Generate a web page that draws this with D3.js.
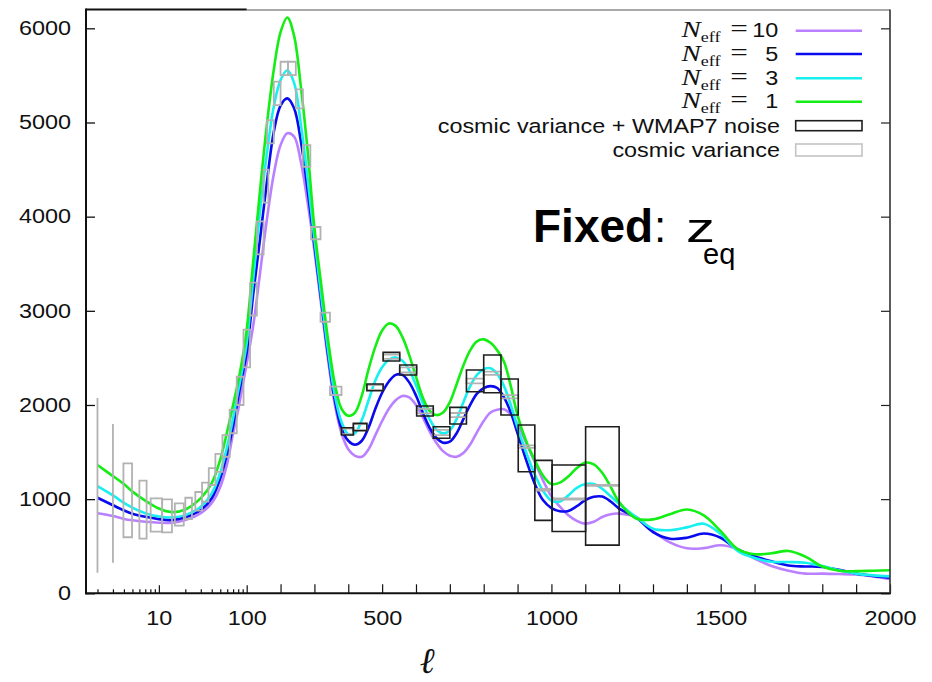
<!DOCTYPE html>
<html>
<head>
<meta charset="utf-8">
<script src="https://cdn.jsdelivr.net/npm/d3@7"></script>
<style>
  body { margin: 0; background: #fff; }
  svg { display: block; }
</style>
</head>
<body>
<div id="chart"></div>
<script>
// multipoles where the spectra were read
var ell = [2, 3, 4, 5, 7, 10, 14, 20, 30,
  40, 50, 60, 70, 80, 90, 100,
  120, 140, 160, 180, 200, 220, 240, 260, 280, 300,
  320, 340, 360, 380, 400, 420, 440, 460, 480, 500,
  520, 540, 560, 580, 600, 620, 640, 660, 680, 700,
  720, 740, 760, 780, 800, 820, 840, 860, 880, 900,
  925, 950, 975, 1000, 1025, 1050, 1075, 1100, 1125, 1150, 1175, 1200,
  1250, 1300, 1350, 1400, 1450, 1500, 1550, 1600,
  1650, 1700, 1750, 1800, 1850, 1900, 1950, 2000];

var neff10 = [850, 820, 790, 775, 760, 750, 750, 778, 850,
  960, 1130, 1380, 1700, 1950, 2210, 2440,
  2860, 3420, 3980, 4450, 4760, 4885, 4850, 4580, 4150, 3640,
  3060, 2490, 2010, 1700, 1530, 1460, 1450, 1530, 1680, 1830,
  1960, 2050, 2095, 2080, 2000, 1870, 1720, 1600, 1510, 1460,
  1451, 1490, 1580, 1710, 1830, 1920, 1950, 1954, 1900, 1800,
  1600, 1400, 1200, 1030, 920, 830, 770, 740, 760, 810, 840, 846,
  810, 660, 540, 478, 480, 510, 468, 370,
  290, 240, 209, 209, 205, 199, 180, 150];

var neff5 = [1015, 935, 880, 845, 812, 788, 778, 808, 885,
  1010, 1220, 1490, 1780, 2080, 2330, 2560,
  3200, 3780, 4380, 4900, 5180, 5256, 5150, 4800, 4280, 3700,
  3110, 2540, 2060, 1750, 1620, 1578, 1620, 1760, 1960, 2130,
  2250, 2320, 2320, 2240, 2100, 1920, 1760, 1650, 1600, 1610,
  1700, 1850, 2000, 2120, 2180, 2200, 2180, 2080, 1920, 1700,
  1420, 1170, 990, 905, 872, 875, 925, 990, 1025, 1027, 975, 900,
  805, 650, 580, 590, 635, 590, 465, 395,
  340, 295, 285, 280, 250, 209, 185, 165];

var neff3 = [1139, 1040, 960, 910, 850, 815, 806, 830, 920,
  1060, 1280, 1560, 1860, 2150, 2400, 2660,
  3360, 4080, 4680, 5170, 5450, 5555, 5420, 4980, 4400, 3760,
  3160, 2590, 2110, 1820, 1690, 1700, 1840, 2050, 2260, 2400,
  2480, 2505, 2470, 2370, 2210, 2020, 1850, 1740, 1699, 1730,
  1850, 2030, 2200, 2320, 2380, 2389, 2330, 2200, 2000, 1760,
  1500, 1270, 1090, 985, 975, 1040, 1120, 1160, 1162, 1110, 1030, 950,
  810, 685, 670, 700, 739, 630, 450, 375,
  335, 332, 325, 290, 245, 209, 190, 180];

var neff1 = [1362, 1245, 1160, 1080, 985, 900, 862, 890, 1010,
  1170, 1420, 1720, 2000, 2250, 2510, 2796,
  3555, 4300, 4990, 5560, 5960, 6115, 5920, 5380, 4700, 3880,
  3280, 2700, 2230, 1960, 1885, 1920, 2100, 2380, 2620, 2790,
  2865, 2840, 2720, 2530, 2300, 2080, 1940, 1893, 1920, 2030,
  2220, 2420, 2580, 2675, 2697, 2660, 2580, 2460, 2200, 1890,
  1620, 1420, 1250, 1160, 1175, 1240, 1330, 1388, 1370, 1280, 1130, 970,
  795, 785, 840, 890, 828, 660, 470, 415,
  425, 450, 390, 285, 240, 235, 240, 245];

// error boxes: [lmin, lmax, low, high]
var cvBoxes = [
  [2, 2, 219, 2074], [3, 3, 325, 1798], [3.95, 4.95, 595, 1380], [6, 7.25, 580, 1196],
  [8.06, 10.9, 654, 1009], [10.9, 14.1, 648, 998], [15.2, 19.2, 718, 956], [20, 23.8, 789, 1015],
  [26, 31, 877, 1076], [31, 36.7, 973, 1175], [37, 44, 1150, 1330], [44, 53, 1290, 1480],
  [53, 64, 1450, 1680], [64, 77, 1700, 1950], [77, 92, 2000, 2300], [92, 110, 2400, 2800],
  [110, 130, 2950, 3300], [130, 150, 3600, 3950], [150, 164, 4150, 4500], [160, 180, 4779, 5026],
  [180, 200, 5185, 5433], [200, 222, 5504, 5645], [222, 245, 5504, 5645], [245, 266, 5150, 5352],
  [266, 288, 4530, 4760], [290, 318, 3760, 3890], [318, 346, 2884, 2980], [346, 380, 2106, 2194],
  [380, 415, 1690, 1750], [415, 455, 1735, 1797], [455, 503, 2160, 2212], [503, 552, 2490, 2535],
  [552, 602, 2345, 2400], [602, 651, 1910, 1960], [651, 700, 1680, 1735], [700, 749, 1870, 1915],
  [749, 800, 2230, 2280], [800, 851, 2320, 2355], [851, 902, 2070, 2105], [902, 951, 1545, 1570],
  [951, 1002, 1090, 1108], [1002, 1101, 995, 1008], [1101, 1200, 1140, 1152]
];
var noiseBoxes = [
  [380, 415, 1681, 1758], [415, 455, 1727, 1805], [455, 503, 2151, 2222], [503, 552, 2467, 2559],
  [552, 602, 2318, 2424], [602, 651, 1883, 1989], [651, 700, 1646, 1769], [700, 749, 1798, 1975],
  [749, 800, 2141, 2371], [800, 851, 2130, 2531], [851, 902, 1893, 2276], [902, 951, 1291, 1787],
  [951, 1002, 775, 1412], [1002, 1101, 656, 1362], [1101, 1200, 512, 1769]
];

var yTicks = [0, 1000, 2000, 3000, 4000, 5000, 6000];
var logTicks = [2, 3, 4, 5, 6, 7, 8, 9, 10, 20, 30, 40, 50, 60, 70, 80, 90, 100];
var linTicks = [200, 300, 400, 500, 600, 700, 800, 900, 1000, 1100, 1200, 1300, 1400, 1500, 1600, 1700, 1800, 1900, 2000];
var xLabels = [10, 100, 500, 1000, 1500, 2000];

var series = [
  {n: "10", values: neff10, color: "#bb80ff"},
  {n: "5", values: neff5, color: "#0a0aee"},
  {n: "3", values: neff3, color: "#18f0f0"},
  {n: "1", values: neff1, color: "#14ee14"}
];

var W = 932, H = 682;
var pLeft = 86, pRight = 890, pTop = 9.5, pBottom = 593.3;
var sans = "Liberation Sans, Arial, Helvetica, sans-serif";
var serif = "Liberation Serif, Times New Roman, serif";

var svg = d3.select("#chart").append("svg")
  .attr("width", W).attr("height", H);
svg.append("rect").attr("width", W).attr("height", H).attr("fill", "#fff");

// log part below l=100, linear above
var xLog = d3.scaleLog().domain([1.5, 100]).range([86.5, 246.7]);
var xLin = d3.scaleLinear().domain([100, 2000]).range([246.7, pRight]);
function xPos(l) { return l <= 100 ? xLog(l) : xLin(l); }
var y = d3.scaleLinear().domain([0, 6200]).range([pBottom, pTop]);

function styleText(g, size) {
  g.selectAll("text")
    .attr("font-size", size)
    .attr("font-family", sans)
    .attr("fill", "#111")
    .attr("transform", "scale(1.2,1)");
}

// y axis (left and mirrored right)
svg.append("g")
  .attr("transform", "translate(" + pLeft + ",0)")
  .call(d3.axisLeft(y).tickValues(yTicks).tickSize(-9).tickPadding(12.5).tickFormat(d3.format("d")))
  .call(g => g.select(".domain").remove())
  .call(g => g.selectAll("line").attr("stroke", "#111").attr("stroke-width", 1.3))
  .call(g => styleText(g, 19.5));

svg.append("g")
  .attr("transform", "translate(" + pRight + ",0)")
  .call(d3.axisRight(y).tickValues(yTicks).tickSize(-9).tickFormat(""))
  .call(g => g.select(".domain").remove())
  .call(g => g.selectAll("line").attr("stroke", "#222").attr("stroke-width", 1.2));

// x axis: log part
svg.append("g")
  .attr("transform", "translate(0," + pBottom + ")")
  .call(d3.axisBottom(xLog).tickValues(logTicks).tickSize(-4).tickPadding(18)
    .tickFormat(d => xLabels.includes(d) ? d : ""))
  .call(g => g.select(".domain").remove())
  .call(g => g.selectAll("line").attr("stroke", "#111").attr("stroke-width", 1.2)
    .attr("y2", d => (d === 10 || d === 100) ? -8 : -4))
  .call(g => styleText(g, 19.5));

// x axis: linear part
svg.append("g")
  .attr("transform", "translate(0," + pBottom + ")")
  .call(d3.axisBottom(xLin).tickValues(linTicks).tickSize(-9).tickPadding(18)
    .tickFormat(d => xLabels.includes(d) ? d : ""))
  .call(g => g.select(".domain").remove())
  .call(g => g.selectAll("line").attr("stroke", "#111").attr("stroke-width", 1.2))
  .call(g => styleText(g, 19.5));

// spectra
var line = d3.line()
  .x((d, i) => xPos(ell[i]))
  .y(d => y(d))
  .curve(d3.curveCatmullRom.alpha(0.5));

svg.append("g").selectAll("path")
  .data(series)
  .enter()
  .append("path")
  .attr("d", d => line(d.values))
  .attr("fill", "none")
  .attr("stroke", d => d.color)
  .attr("stroke-width", 2.6);

// error boxes
function boxPath(b) {
  var x0 = xPos(b[0]), x1 = xPos(b[1]), y0 = y(b[2]), y1 = y(b[3]);
  return "M" + x0 + "," + y0 + "H" + x1 + "V" + y1 + "H" + x0 + "Z";
}
svg.append("g").selectAll("path")
  .data(cvBoxes)
  .enter()
  .append("path")
  .attr("d", boxPath)
  .attr("fill", "none")
  .attr("stroke", "#b2b2b2")
  .attr("stroke-width", 1.8);

svg.append("g").selectAll("path")
  .data(noiseBoxes)
  .enter()
  .append("path")
  .attr("d", boxPath)
  .attr("fill", "none")
  .attr("stroke", "#1e1e1e")
  .attr("stroke-width", 1.6);

// frame
var frame = svg.append("g").attr("fill", "none");
frame.append("line").attr("x1", pLeft).attr("x2", pLeft).attr("y1", pTop - 1).attr("y2", pBottom + 1)
  .attr("stroke", "#111").attr("stroke-width", 2);
frame.append("line").attr("x1", pLeft - 1).attr("x2", pRight + 1).attr("y1", pBottom).attr("y2", pBottom)
  .attr("stroke", "#111").attr("stroke-width", 2);
frame.append("line").attr("x1", pLeft).attr("x2", xLin(100)).attr("y1", pTop).attr("y2", pTop)
  .attr("stroke", "#111").attr("stroke-width", 2);
frame.append("line").attr("x1", xLin(100)).attr("x2", pRight).attr("y1", pTop + 0.5).attr("y2", pTop + 0.5)
  .attr("stroke", "#555").attr("stroke-width", 1.2);
frame.append("line").attr("x1", pRight).attr("x2", pRight).attr("y1", pTop).attr("y2", pBottom)
  .attr("stroke", "#333").attr("stroke-width", 1.6);

// legend
var rowY = [30.7, 54, 78.3, 101.7, 125.7, 150];
var sx0 = 795.7, sx1 = 862;
series.forEach(function(s, i) {
  var row = svg.append("g").attr("transform", "translate(780," + (rowY[i] + 6.5) + ") scale(1.2,1)");
  var t = row.append("text").attr("x", -82).attr("font-family", serif).attr("fill", "#111");
  t.append("tspan").attr("font-style", "italic").attr("font-size", 24).text("N");
  t.append("tspan").attr("font-size", 15).attr("dy", 5).text("eff");
  t.append("tspan").attr("x", -41.5).attr("dy", -5).attr("font-size", 26).text("=");
  row.append("text").attr("x", -1.5).attr("text-anchor", "end").attr("font-family", sans)
    .attr("font-size", 19.5).attr("fill", "#111").text(s.n);
  svg.append("line").attr("x1", sx0).attr("x2", sx1).attr("y1", rowY[i]).attr("y2", rowY[i])
    .attr("stroke", s.color).attr("stroke-width", 2.6);
});

var boxLegend = [
  {label: "cosmic variance + WMAP7 noise", stroke: "#1e1e1e", h: 10},
  {label: "cosmic variance", stroke: "#c4c4c4", h: 12}
];
boxLegend.forEach(function(b, j) {
  var cy = rowY[4 + j];
  svg.append("g").attr("transform", "translate(780," + (cy + 6.8) + ") scale(1.2,1)")
    .append("text").attr("text-anchor", "end").attr("font-family", sans)
    .attr("font-size", 19.5).attr("fill", "#111").text(b.label);
  svg.append("rect").attr("x", sx0).attr("y", cy - b.h / 2).attr("width", sx1 - sx0).attr("height", b.h)
    .attr("fill", "none").attr("stroke", b.stroke).attr("stroke-width", 1.6);
});

// annotation
svg.append("text").attr("x", 533).attr("y", 241.7).attr("font-family", sans)
  .attr("font-size", 46).attr("font-weight", "bold").attr("fill", "#000").text("Fixed");
svg.append("text").attr("x", 654).attr("y", 241.7).attr("font-family", sans)
  .attr("font-size", 44).attr("fill", "#000").text(":");
svg.append("g").attr("transform", "translate(686,241.7) scale(1.45,1)")
  .append("text").attr("font-family", sans).attr("font-size", 40).attr("fill", "#000").text("z");
svg.append("text").attr("x", 703).attr("y", 264).attr("font-family", sans)
  .attr("font-size", 29).attr("fill", "#000").text("eq");

// axis title
svg.append("text").attr("x", 427).attr("y", 673).attr("text-anchor", "middle")
  .attr("font-family", "DejaVu Serif, serif").attr("font-style", "italic")
  .attr("font-size", 36).attr("fill", "#111").text("\u2113");
</script>
</body>
</html>
